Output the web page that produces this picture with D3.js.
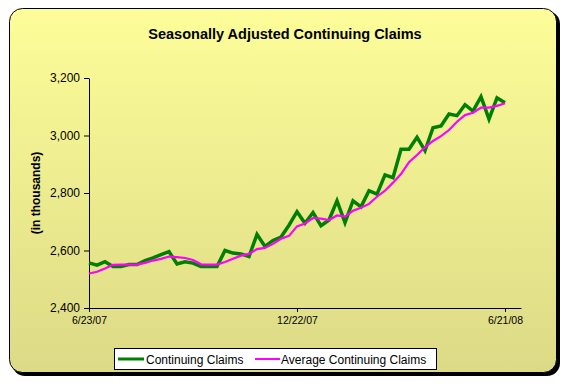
<!DOCTYPE html>
<html>
<head>
<meta charset="utf-8">
<script src="https://cdn.jsdelivr.net/npm/d3@7"></script>
<style>
  body { margin: 0; background: #fff; }
  svg { display: block; font-family: Arial, "Liberation Sans", sans-serif; }
</style>
</head>
<body>
<script>
var w = 570;
var h = 388;

// weekly data, first week ending 6/23/07
var startDate = new Date(2007, 5, 23);
var claims = [2557, 2549, 2561, 2544, 2544, 2551, 2551, 2565, 2574, 2586,
              2596, 2553, 2561, 2556, 2544, 2544, 2544, 2600, 2591, 2588,
              2579, 2656, 2614, 2635, 2647, 2688, 2735, 2695, 2732, 2686,
              2706, 2773, 2697, 2773, 2752, 2808, 2796, 2863, 2853, 2952,
              2952, 2994, 2947, 3027, 3033, 3075, 3069, 3107, 3085, 3135,
              3057, 3131, 3114];
var avgClaims = [2520, 2526, 2537, 2550, 2551, 2551, 2551, 2557, 2565, 2571,
                 2579, 2577, 2574, 2567, 2552, 2551, 2551, 2560, 2571, 2582,
                 2588, 2605, 2609, 2623, 2641, 2651, 2684, 2694, 2713, 2711,
                 2706, 2722, 2718, 2738, 2749, 2762, 2787, 2808, 2836, 2866,
                 2907, 2932, 2959, 2981, 2998, 3019, 3048, 3071, 3079, 3097,
                 3097, 3103, 3112];
var yTicks = [2400, 2600, 2800, 3000, 3200];
var xTicks = [new Date(2007, 5, 23), new Date(2007, 11, 22), new Date(2008, 5, 21)];

var dates = claims.map(function(d, i) { return d3.timeDay.offset(startDate, 7 * i); });

var svg = d3.select("body")
    .append("svg")
    .attr("width", w)
    .attr("height", h);

var defs = svg.append("defs");
var grad = defs.append("linearGradient")
    .attr("id", "bg")
    .attr("x1", 0).attr("y1", 0).attr("x2", 0).attr("y2", 1);
grad.append("stop").attr("offset", "0%").attr("stop-color", "#fdfd99");
grad.append("stop").attr("offset", "100%").attr("stop-color", "#dcda86");

// frame with shadow
svg.append("rect")
    .attr("x", 12).attr("y", 11)
    .attr("width", 548).attr("height", 365)
    .attr("rx", 13)
    .attr("fill", "#000");
svg.append("rect")
    .attr("x", 9.5).attr("y", 8.5)
    .attr("width", 547).attr("height", 364)
    .attr("rx", 13)
    .attr("fill", "url(#bg)")
    .attr("stroke", "#000")
    .attr("stroke-width", 1);

var xScale = d3.scaleTime()
    .domain([new Date(2007, 5, 23), new Date(2008, 6, 5)])
    .range([89, 521]);

var yScale = d3.scaleLinear()
    .domain([2400, 3200])
    .range([308, 78]);

var xAxis = d3.axisBottom(xScale)
    .tickValues(xTicks)
    .tickSizeInner(4)
    .tickSizeOuter(0)
    .tickPadding(5)
    .tickFormat(d3.timeFormat("%-m/%-d/%y"));

var yAxis = d3.axisLeft(yScale)
    .tickValues(yTicks)
    .tickSizeInner(5)
    .tickSizeOuter(0)
    .tickPadding(4)
    .tickFormat(d3.format(","));

var gx = svg.append("g")
    .attr("transform", "translate(0," + 308 + ")")
    .call(xAxis);
gx.selectAll("text").style("font-size", "10.5px").attr("fill", "#000");

var gy = svg.append("g")
    .attr("transform", "translate(" + 89 + ",0)")
    .call(yAxis);
gy.selectAll("text").style("font-size", "12px").attr("fill", "#000");

svg.selectAll(".domain, .tick line").attr("stroke", "#000").attr("stroke-width", 1);

// lines
var line = d3.line()
    .x(function(d, i) { return xScale(dates[i]); })
    .y(function(d) { return yScale(d); });

svg.append("path")
    .datum(claims)
    .attr("d", line)
    .attr("fill", "none")
    .attr("stroke", "#008000")
    .attr("stroke-width", 3.5)
    .attr("stroke-linejoin", "miter");

svg.append("path")
    .datum(avgClaims)
    .attr("d", line)
    .attr("fill", "none")
    .attr("stroke", "#ff00ff")
    .attr("stroke-width", 2.2);

// title
svg.append("text")
    .attr("x", 285)
    .attr("y", 39)
    .attr("text-anchor", "middle")
    .style("font-size", "14.5px")
    .style("font-weight", "bold")
    .text("Seasonally Adjusted Continuing Claims");

// y label
svg.append("text")
    .attr("text-anchor", "middle")
    .attr("transform", "translate(40,193) rotate(-90)")
    .style("font-size", "12px")
    .style("font-weight", "bold")
    .text("(in thousands)");

// legend
var lg = svg.append("g");
lg.append("rect")
    .attr("x", 114.5).attr("y", 348.5)
    .attr("width", 322).attr("height", 21)
    .attr("fill", "#fff")
    .attr("stroke", "#000");
lg.append("line")
    .attr("x1", 118).attr("x2", 144).attr("y1", 359).attr("y2", 359)
    .attr("stroke", "#008000").attr("stroke-width", 3);
lg.append("text")
    .attr("x", 146).attr("y", 363.5)
    .style("font-size", "12px")
    .text("Continuing Claims");
lg.append("line")
    .attr("x1", 255).attr("x2", 280).attr("y1", 359).attr("y2", 359)
    .attr("stroke", "#ff00ff").attr("stroke-width", 2);
lg.append("text")
    .attr("x", 281).attr("y", 363.5)
    .style("font-size", "12px")
    .text("Average Continuing Claims");
</script>
</body>
</html>
